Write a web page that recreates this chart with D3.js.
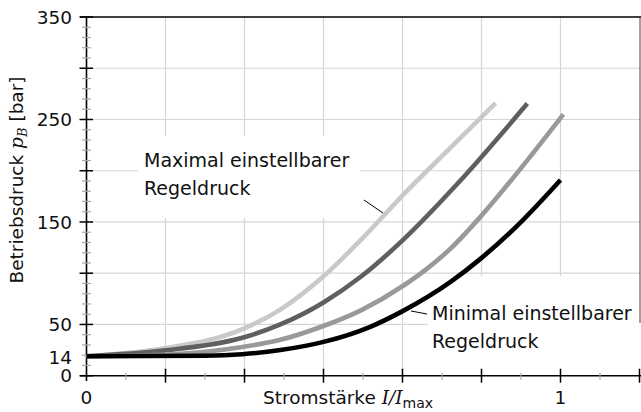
<!DOCTYPE html>
<html>
<head>
<meta charset="utf-8">
<script src="https://cdn.jsdelivr.net/npm/d3@7"></script>
<style>
  body { margin: 0; background: #fff; }
  text { font-family: "DejaVu Sans", sans-serif; fill: #111; }
</style>
</head>
<body>
<div id="chart"></div>
<script>
const width = 641,
      height = 412;

// curves: [I/Imax, p_B in bar]
const curveLight = [[0, 19], [0.162, 26.5], [0.329, 45.5], [0.409, 64.5], [0.5, 97], [0.58, 133],
                    [0.669, 177], [0.766, 221.5], [0.863, 266]];
const curveDark = [[0, 19], [0.162, 24.5], [0.329, 37], [0.409, 50], [0.5, 71.5], [0.58, 97],
                   [0.669, 133], [0.783, 187.5], [0.93, 265.5]];
const curveMid = [[0, 19], [0.162, 20.5], [0.329, 28], [0.409, 35], [0.494, 47.5], [0.58, 64],
                  [0.669, 88], [0.72, 105], [0.768, 124], [0.831, 155], [0.9, 193], [1.006, 255]];
const curveBlack = [[0, 19], [0.25, 19.5], [0.329, 21], [0.409, 25], [0.5, 33], [0.6, 48],
                    [0.667, 63], [0.768, 91.5], [0.831, 114], [0.909, 146.5], [1.0, 191]];

const yTickLabels = [0, 14, 50, 150, 250, 350],
      yGrid = [50, 100, 150, 200, 250, 300],
      yMajor = d3.range(0, 351, 50),
      yMinor = d3.range(0, 351, 10).filter(v => v % 50 !== 0),
      xMajor = d3.range(1, 8).map(k => k / 6),
      xMinor = d3.range(0, 7).map(k => (2 * k + 1) / 12),
      xTickLabels = [0, 1];

const series = [
  { name: 'light', values: curveLight, color: '#c9c9c9' },
  { name: 'dark', values: curveDark, color: '#5f5f5f' },
  { name: 'mid', values: curveMid, color: '#999999' },
  { name: 'black', values: curveBlack, color: '#000000' }
];

const xScale = d3.scaleLinear().domain([0, 7 / 6]).range([86.5, 639.5]),
      yScale = d3.scaleLinear().domain([0, 350]).range([375.7, 17]);

const svg = d3.select('#chart').append('svg')
    .attr('width', width)
    .attr('height', height);

// grid
svg.append('g').selectAll('line.h')
  .data(yGrid)
  .enter().append('line')
    .attr('x1', xScale(0)).attr('x2', 640)
    .attr('y1', d => yScale(d)).attr('y2', d => yScale(d))
    .attr('stroke', '#d6d6d6').attr('stroke-width', 1.2);

svg.append('g').selectAll('line.v')
  .data(xMajor.slice(0, 6))
  .enter().append('line')
    .attr('x1', d => xScale(d)).attr('x2', d => xScale(d))
    .attr('y1', yScale(350)).attr('y2', yScale(0))
    .attr('stroke', '#d6d6d6').attr('stroke-width', 1.2);

// white boxes behind the notes
svg.append('rect').attr('x', 138).attr('y', 136).attr('width', 222).attr('height', 82).attr('fill', '#fff');
svg.append('rect').attr('x', 428).attr('y', 276).attr('width', 213).attr('height', 94).attr('fill', '#fff');

// frame
svg.append('line').attr('x1', 80).attr('x2', 641).attr('y1', yScale(350)).attr('y2', yScale(350))
  .attr('stroke', '#000').attr('stroke-width', 1.5);
svg.append('line').attr('x1', 640).attr('x2', 640).attr('y1', yScale(350)).attr('y2', 323)
  .attr('stroke', '#444').attr('stroke-width', 1);

// y axis
svg.append('line').attr('x1', xScale(0)).attr('x2', xScale(0)).attr('y1', yScale(350)).attr('y2', 381)
  .attr('stroke', '#000').attr('stroke-width', 1.6);
svg.append('g').selectAll('line')
  .data(yMinor)
  .enter().append('line')
    .attr('x1', 82).attr('x2', 91)
    .attr('y1', d => yScale(d)).attr('y2', d => yScale(d))
    .attr('stroke', '#a8a8a8').attr('stroke-width', 1.2);
svg.append('g').selectAll('line')
  .data(yMajor)
  .enter().append('line')
    .attr('x1', 79.5).attr('x2', 93)
    .attr('y1', d => yScale(d)).attr('y2', d => yScale(d))
    .attr('stroke', '#000').attr('stroke-width', 1.5);
svg.append('g').selectAll('text')
  .data(yTickLabels)
  .enter().append('text')
    .attr('x', 72)
    .attr('y', d => d === 14 ? yScale(d) - 4.5 : yScale(d))
    .attr('dy', '0.36em')
    .attr('text-anchor', 'end')
    .attr('font-size', 18.5)
    .text(d => d);

// x axis
svg.append('line').attr('x1', 80).attr('x2', 641).attr('y1', yScale(0)).attr('y2', yScale(0))
  .attr('stroke', '#000').attr('stroke-width', 1.6);
svg.append('g').selectAll('line')
  .data(xMinor)
  .enter().append('line')
    .attr('x1', d => xScale(d)).attr('x2', d => xScale(d))
    .attr('y1', yScale(0) - 3).attr('y2', yScale(0) + 4)
    .attr('stroke', '#a8a8a8').attr('stroke-width', 1.2);
svg.append('g').selectAll('line')
  .data(xMajor)
  .enter().append('line')
    .attr('x1', d => xScale(d)).attr('x2', d => xScale(d))
    .attr('y1', yScale(0) - 7).attr('y2', yScale(0) + 7)
    .attr('stroke', '#000').attr('stroke-width', 1.5);
svg.append('g').selectAll('text')
  .data(xTickLabels)
  .enter().append('text')
    .attr('x', d => xScale(d))
    .attr('y', 404)
    .attr('text-anchor', 'middle')
    .attr('font-size', 18.5)
    .text(d => d);

// axis titles
const xt = svg.append('text')
    .attr('x', 348).attr('y', 404)
    .attr('text-anchor', 'middle')
    .attr('font-size', 18.5);
xt.append('tspan').text('Stromstärke ');
xt.append('tspan').attr('font-family', '"DejaVu Serif", serif').attr('font-style', 'italic').text('I/I');
xt.append('tspan').attr('font-size', 14).attr('dy', 4).text('max');

const yt = svg.append('text')
    .attr('transform', 'translate(23, 180) rotate(-90)')
    .attr('text-anchor', 'middle')
    .attr('font-size', 18.5);
yt.append('tspan').text('Betriebsdruck ');
yt.append('tspan').attr('font-family', '"DejaVu Serif", serif').attr('font-style', 'italic').text('p');
yt.append('tspan').attr('font-family', '"DejaVu Serif", serif').attr('font-style', 'italic')
  .attr('font-size', 13).attr('dy', 4).text('B');
yt.append('tspan').attr('dy', -4).text(' [bar]');

// curves
const line = d3.line()
    .x(d => xScale(d[0]))
    .y(d => yScale(d[1]))
    .curve(d3.curveMonotoneX);

svg.append('g').selectAll('path')
  .data(series)
  .enter().append('path')
    .attr('d', d => line(d.values))
    .attr('fill', 'none')
    .attr('stroke', d => d.color)
    .attr('stroke-width', 4.6)
    .attr('stroke-linecap', 'butt');

// notes
svg.append('line').attr('x1', 364).attr('y1', 200).attr('x2', 383).attr('y2', 213)
  .attr('stroke', '#000').attr('stroke-width', 1);
svg.append('line').attr('x1', 411).attr('y1', 311).attr('x2', 427).attr('y2', 314)
  .attr('stroke', '#000').attr('stroke-width', 1);

svg.append('text').attr('x', 144).attr('y', 167).attr('font-size', 19).text('Maximal einstellbarer');
svg.append('text').attr('x', 144).attr('y', 195).attr('font-size', 19).text('Regeldruck');
svg.append('text').attr('x', 432).attr('y', 320).attr('font-size', 19).text('Minimal einstellbarer');
svg.append('text').attr('x', 432).attr('y', 348).attr('font-size', 19).text('Regeldruck');
</script>
</body>
</html>
